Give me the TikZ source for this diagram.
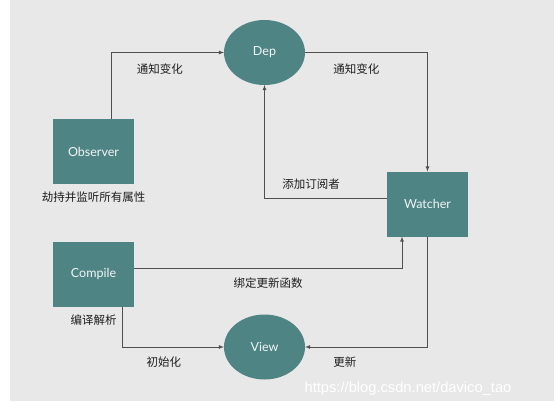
\documentclass[tikz,border=0pt]{standalone}
\usepackage{fontspec}
\setmainfont{Lato}
\newfontfamily\cjk{Noto Sans CJK SC}
\newfontfamily\wmfont{Liberation Sans}
\usepackage{tikz}
\usetikzlibrary{arrows,positioning,shapes.geometric}
\definecolor{teal}{RGB}{78,133,132}
\definecolor{backgr}{RGB}{232,232,232}
\definecolor{linegr}{RGB}{80,80,80}
\definecolor{txtgr}{RGB}{30,30,30}

\begin{document}
\begin{tikzpicture}[>=latex,x=1pt,y=-1pt,
	box/.style={rectangle,fill=teal,text=white!92!teal,minimum width=81pt,minimum height=65pt,inner sep=0pt,outer sep=0pt,font=\fontsize{12.5}{14}\selectfont},
	blob/.style={ellipse,fill=teal,text=white!92!teal,minimum width=81pt,minimum height=65pt,inner sep=0pt,outer sep=0pt,font=\fontsize{12.5}{14}\selectfont},
	lbl/.style={text=txtgr,font=\cjk\fontsize{11.5}{13}\selectfont},
	link/.style={->,draw=linegr,line width=0.8pt}]

\fill[white] (0,0) rectangle (557,408);
\useasboundingbox (0,0) rectangle (557,408);
\fill[backgr] (10,0) rectangle (554,401);

\node[blob]   (dep)     at (264.5,52.5)   {Dep};
\node[blob]   (view) [below of=dep,node distance=294.5pt]  	{View};
\node[box] 	  (observer) at (93.5,151.5)  	{Observer};
\node[box] 	  (compile) [below of=observer,node distance=122.5pt]  	{Compile};
\node[box] 	  (watcher) at (427.5,204)  	{Watcher};

\node[lbl]	  (hijack) [below=4pt of observer]	{劫持并监听所有属性};
\node[lbl]	  (parse) [below=5pt of compile]	{编译解析};

\draw[link] ([xshift=18pt]observer.north) |- node[lbl,pos=.715,below=7pt]{通知变化} (dep.west);
\draw[link] (dep) -| node[lbl,pos=.21,below=7pt]{通知变化} (watcher);
\draw[link] ([yshift=6pt]watcher.west) -| node[lbl,pos=.31,above=5pt]{添加订阅者} (dep.south);
\draw[link] ([yshift=6pt]compile.east) -| node[lbl,pos=.25,below=6pt]{绑定更新函数} ([xshift=-25.5pt]watcher.south);
\draw[link] ([xshift=28.5pt]compile.south) |- node[lbl,pos=.705,below=6pt]{初始化} (view.west);
\draw[link] (watcher) |- node[lbl,pos=.837,below=6pt]{更新} (view);

\node[text=white,font=\wmfont\fontsize{14.7}{16}\selectfont] (mark) at (408,389) {https://blog.csdn.net/davico\_tao};
\end{tikzpicture}
\end{document}
